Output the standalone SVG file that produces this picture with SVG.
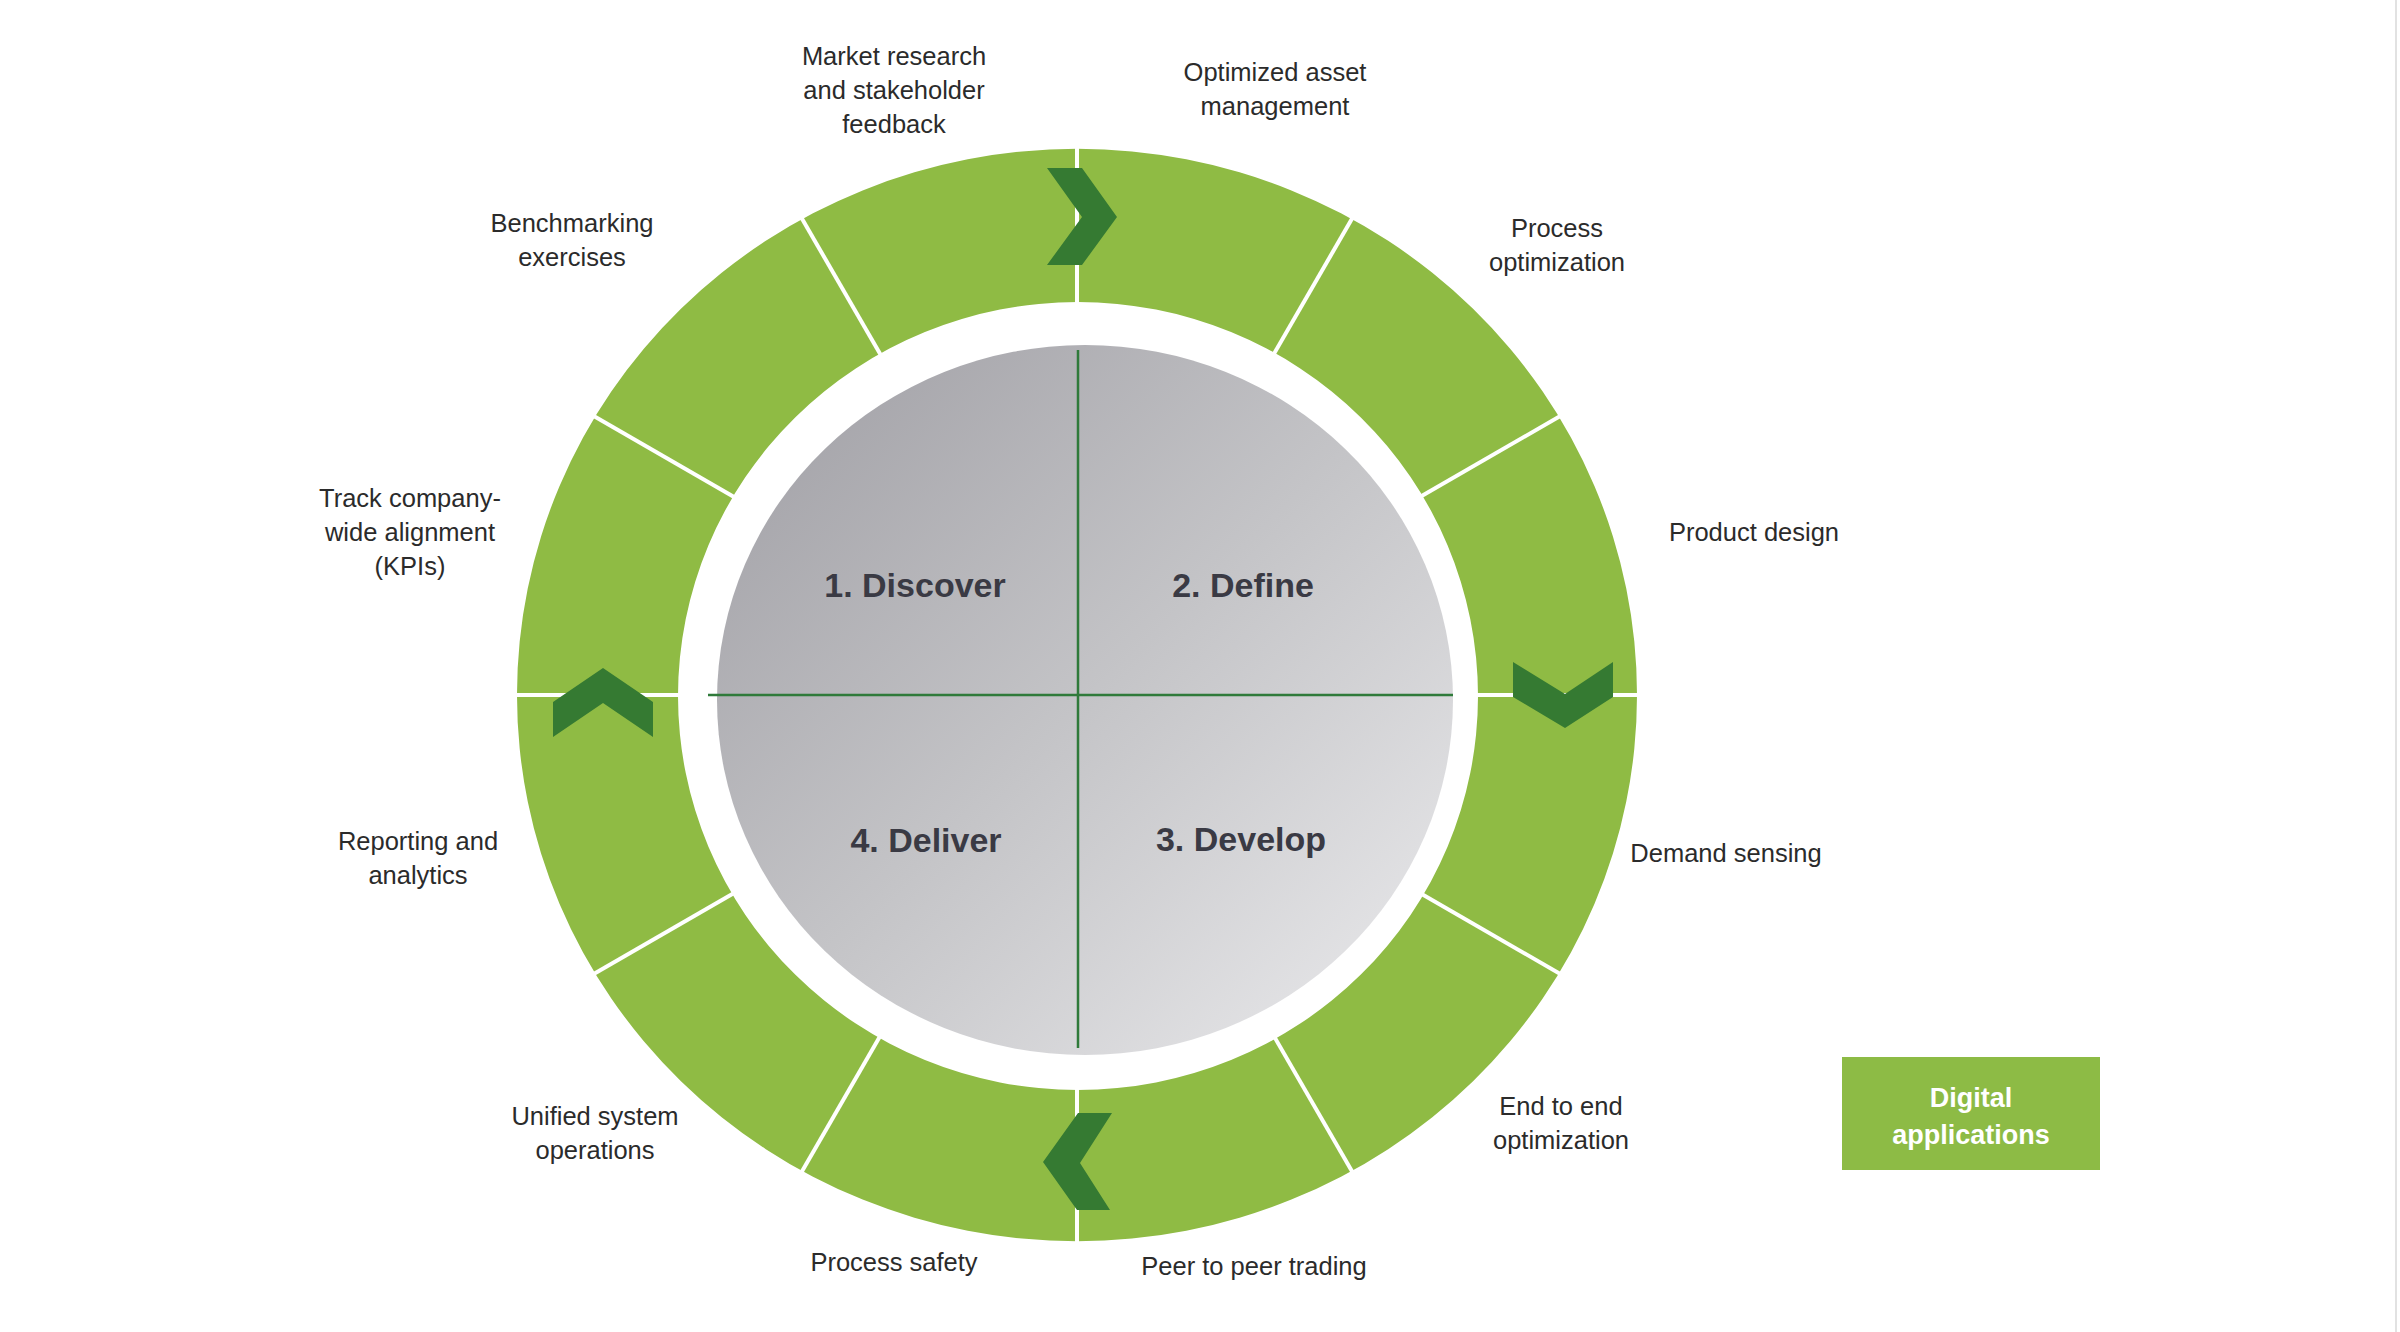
<svg xmlns="http://www.w3.org/2000/svg" width="2400" height="1332" viewBox="0 0 2400 1332">
<defs>
<linearGradient id="gray" x1="0" y1="0" x2="1" y2="1">
<stop offset="0" stop-color="#9e9da3"/>
<stop offset="0.5" stop-color="#c4c4c7"/>
<stop offset="1" stop-color="#ececee"/>
</linearGradient>
<style>
.lbl{font-family:"Liberation Sans",Arial,sans-serif;font-size:25.5px;fill:#2b2b2b;text-anchor:middle}
.phase{font-family:"Liberation Sans",Arial,sans-serif;font-size:34px;font-weight:bold;fill:#3a3a44;text-anchor:middle}
.sep{stroke:#ffffff;stroke-width:4}
.chev{fill:#357a32}
.axis{stroke:#2f7a3a;stroke-width:2.5}
</style>
</defs>
<rect width="2400" height="1332" fill="#ffffff"/>
<line x1="2396" y1="0" x2="2396" y2="1332" stroke="#e2e2e2" stroke-width="2"/>

<g id="ring">
<path fill="#8fbb44" fill-rule="evenodd" d="M517,695 A560,546 0 1,0 1637,695 A560,546 0 1,0 517,695 Z M678,696 A400,394 0 1,0 1478,696 A400,394 0 1,0 678,696 Z"/>
</g>

<g id="connectors">
<line class="sep" x1="1462" y1="695" x2="1652" y2="695"/>
<line class="sep" x1="1410.4" y1="887.5" x2="1575" y2="982.5"/>
<line class="sep" x1="1269.5" y1="1028.4" x2="1364.5" y2="1193"/>
<line class="sep" x1="1077" y1="1080" x2="1077" y2="1270"/>
<line class="sep" x1="884.5" y1="1028.4" x2="789.5" y2="1193"/>
<line class="sep" x1="743.6" y1="887.5" x2="579" y2="982.5"/>
<line class="sep" x1="692" y1="695" x2="502" y2="695"/>
<line class="sep" x1="743.6" y1="502.5" x2="579" y2="407.5"/>
<line class="sep" x1="884.5" y1="361.6" x2="789.5" y2="197"/>
<line class="sep" x1="1077" y1="310" x2="1077" y2="120"/>
<line class="sep" x1="1269.5" y1="361.6" x2="1364.5" y2="197"/>
<line class="sep" x1="1410.4" y1="502.5" x2="1575" y2="407.5"/>
<path class="chev" d="M1047,168 L1082,168 L1117,217 L1082,265 L1047,265 L1082,217 Z"/>
<path class="chev" d="M1513,662 L1565,694 L1613,662 L1613,697 L1565,728 L1513,697 Z"/>
<path class="chev" d="M1078,1113 L1112,1113 L1080,1163 L1110,1210 L1077,1210 L1043,1162 Z"/>
<path class="chev" d="M603,668 L653,702 L653,737 L603,703 L553,737 L553,702 Z"/>
</g>

<g id="core">
<ellipse cx="1085" cy="700" rx="368" ry="355" fill="url(#gray)"/>
<line class="axis" x1="708" y1="695" x2="1453" y2="695"/>
<line class="axis" x1="1078" y1="350" x2="1078" y2="1048"/>
</g>

<g id="discover"><text class="phase" x="915" y="597">1. Discover</text></g>
<g id="define"><text class="phase" x="1243" y="597">2. Define</text></g>
<g id="develop"><text class="phase" x="1241" y="851">3. Develop</text></g>
<g id="deliver"><text class="phase" x="926" y="852">4. Deliver</text></g>

<g id="market-research"><text class="lbl" x="894" y="65">Market research</text><text class="lbl" x="894" y="99">and stakeholder</text><text class="lbl" x="894" y="133">feedback</text></g>
<g id="optimized-asset"><text class="lbl" x="1275" y="81">Optimized asset</text><text class="lbl" x="1275" y="115">management</text></g>
<g id="process-optimization"><text class="lbl" x="1557" y="237">Process</text><text class="lbl" x="1557" y="271">optimization</text></g>
<g id="product-design"><text class="lbl" x="1754" y="541">Product design</text></g>
<g id="demand-sensing"><text class="lbl" x="1726" y="862">Demand sensing</text></g>
<g id="end-to-end"><text class="lbl" x="1561" y="1115">End to end</text><text class="lbl" x="1561" y="1149">optimization</text></g>
<g id="peer-trading"><text class="lbl" x="1254" y="1275">Peer to peer trading</text></g>
<g id="process-safety"><text class="lbl" x="894" y="1271">Process safety</text></g>
<g id="unified-system"><text class="lbl" x="595" y="1125">Unified system</text><text class="lbl" x="595" y="1159">operations</text></g>
<g id="reporting"><text class="lbl" x="418" y="850">Reporting and</text><text class="lbl" x="418" y="884">analytics</text></g>
<g id="track-kpis"><text class="lbl" x="410" y="507">Track company-</text><text class="lbl" x="410" y="541">wide alignment</text><text class="lbl" x="410" y="575">(KPIs)</text></g>
<g id="benchmarking"><text class="lbl" x="572" y="232">Benchmarking</text><text class="lbl" x="572" y="266">exercises</text></g>

<g id="digital-applications">
<rect x="1842" y="1057" width="258" height="113" fill="#8dbb45"/>
<text x="1971" y="1107" font-family="Liberation Sans, Arial, sans-serif" font-size="27px" font-weight="bold" fill="#ffffff" text-anchor="middle">Digital</text>
<text x="1971" y="1144" font-family="Liberation Sans, Arial, sans-serif" font-size="27px" font-weight="bold" fill="#ffffff" text-anchor="middle">applications</text>
</g>
</svg>
